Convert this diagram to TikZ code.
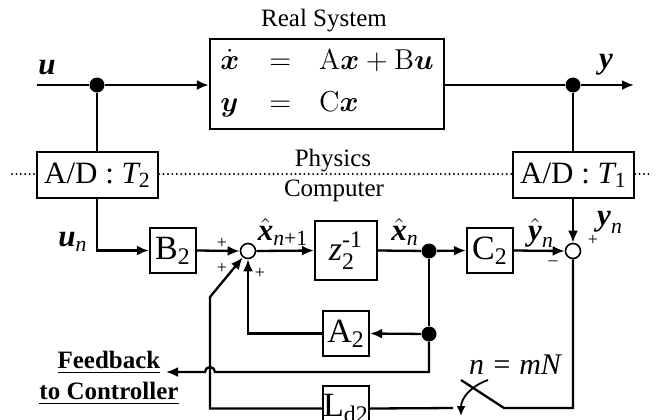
\documentclass[tikz,border=0pt]{standalone}
\usepackage{amsmath}
\usepackage[no-math]{fontspec}
\setmainfont{Liberation Serif}
\usetikzlibrary{arrows.meta,positioning}

\newcommand{\vb}[1]{\textbf{\textit{#1}}}

\tikzset{
  linea/.style={line width=1.15pt},
  flecha/.style={linea,-{Latex[length=6pt,width=5pt]}},
  bloque/.style={draw,line width=1.15pt,inner sep=0pt,minimum width=23pt,
    minimum height=22.5pt,fill=white,font=\fontsize{17}{19}\selectfont},
  conv/.style={draw,line width=1.15pt,inner sep=0pt,minimum width=60.5pt,
    minimum height=23pt,fill=white,font=\fontsize{15.5}{17}\selectfont},
  suma/.style={circle,draw,line width=0.8pt,fill=white,inner sep=0pt,minimum size=7.5pt},
  punto/.style={circle,fill,inner sep=0pt,minimum size=7.5pt},
  signo/.style={inner sep=0pt,font=\fontsize{9}{10}\selectfont},
  etiq/.style={inner sep=0pt,font=\fontsize{15.5}{17}\selectfont},
  texto/.style={inner sep=0pt,font=\fontsize{12.5}{14}\selectfont},
  punteado/.style={line width=1.1pt,line cap=round,dash pattern=on 0pt off 2.2pt},
}

\begin{document}
\begin{tikzpicture}[x=0.5pt,y=-0.5pt]
\useasboundingbox (0,0) rectangle (662,419);
\clip (0,0) rectangle (662,419);

% Sistema real
\node[draw,linea,minimum width=117pt,minimum height=45pt,inner sep=0pt,
  font=\fontsize{13.5}{15}\selectfont] (sis) at (327,84)
  {$\begin{array}{@{}l@{\hspace{15pt}}c@{\hspace{14pt}}l@{}}
    \dot{\boldsymbol{x}} & = & \mathrm{A}\boldsymbol{x}+\mathrm{B}\boldsymbol{u}\\[6pt]
    \boldsymbol{y} & = & \mathrm{C}\boldsymbol{x}
  \end{array}$};
\node[texto,font=\fontsize{12.5}{14}\selectfont] (tsis) at (324,21) {Real System};

% Entrada y salida
\coordinate (uIni) at (37,85);
\coordinate (yFin) at (634,85);
\node[punto] (pU) at (97,85) {};
\node[punto] (pY) at (573,85) {};
\node[etiq] (lu) at (47,68) {\vb{u}};
\node[etiq] (ly) at (606,65) {\vb{y}};
\draw[flecha] (uIni) -- (pU) -- (pU -| sis.west);
\draw[flecha] (pY -| sis.east) -- (pY) -- (yFin);

% Convertidores A/D y frontera
\node[conv] (ad2) at (97.5,175) {A/D : $\textit{T}_{\textrm{2}}$};
\node[conv] (ad1) at (573.5,175) {A/D : $\textit{T}_{\textrm{1}}$};
\draw[linea] (pU) -- (pU |- ad2.north);
\draw[linea] (pY) -- (pY |- ad1.north);
\coordinate (bIzq) at (12,174);
\coordinate (bDer) at (651,174);
\draw[punteado] (bIzq) -- (bIzq -| ad2.west);
\draw[punteado] (ad2.east |- bIzq) -- (ad1.west |- bIzq);
\draw[punteado] (ad1.east |- bDer) -- (bDer);
\node[texto] (tfis) at (333,161) {Physics};
\node[texto] (tcom) at (334,191) {Computer};

% Observador
\node[bloque] (B2) at (173,250.5) {B$_{\textrm{2}}$};
\node[suma] (s1) at (248,251) {};
\node[bloque,minimum width=31pt,minimum height=29.5pt,
  font=\fontsize{17}{19}\selectfont] (z) at (346,250.5) {$\textit{z}_{\textrm{2}}^{\textrm{-1}}$};
\node[punto] (pX) at (429,251) {};
\node[bloque] (C2) at (490,250.5) {C$_{\textrm{2}}$};
\node[suma] (s2) at (573,251) {};
\node[bloque] (A2) at (346,333.5) {A$_{\textrm{2}}$};
\node[punto] (pA) at (429,334) {};
\node[bloque] (L2) at (346,408.5) {L$_{\textrm{d2}}$};

\draw[flecha] (ad2.south -| pU) |- (B2.west);
\draw[flecha] (B2.east) -- (s1.west);
\draw[flecha] (s1.east) -- (z.west);
\draw[linea] (z.east) -- (pX);
\draw[flecha] (pX) -- (C2.west);
\draw[flecha] (C2.east) -- (s2.west);
\draw[flecha] (ad1.south -| pY) -- (s2.north);
\draw[linea] (pX) -- (pA);
\draw[flecha] (pA) -- (A2.east);
\draw[flecha] (A2.west) -| (s1.south);

% Signos de los sumadores
\node[signo] (sg1) at (222,243) {+};
\node[signo] (sg2) at (222,268) {+};
\node[signo] (sg3) at (260,273) {+};
\node[signo] (sg4) at (553,263) {\textendash};
\node[signo] (sg5) at (593,240) {+};

% Etiquetas de senales
\node[etiq] (lun) at (73,242) {$\vb{u}_{\textit{n}}$};
\node[etiq] (lx1) at (283,232) {$\hat{\vb{x}}_{\textit{n}\textrm{+1}}$};
\node[etiq] (lxn) at (405,232) {$\hat{\vb{x}}_{\textit{n}}$};
\node[etiq] (lyh) at (541,233) {$\hat{\vb{y}}_{\textit{n}}$};
\node[etiq] (lyn) at (610,222) {$\vb{y}_{\textit{n}}$};

% Realimentacion al controlador (con salto)
\coordinate (fbFin) at (166,372);
\draw[flecha] (pA) |- (215,372) arc[start angle=0,end angle=-180,radius=5] -- (fbFin);
\node[texto,font=\bfseries\fontsize{12.5}{15.5}\selectfont,align=center] (fb) at (109,378)
  {\underline{Feedback}\\\underline{to Controller}};

% Correccion con interruptor
\coordinate (swA) at (504,408);
\coordinate (swB) at (461,380);
\coordinate (swC) at (453,408);
\coordinate (kL) at (210,297);
\draw[linea] (s2.south) |- (swA) -- (swB);
\draw[linea] (swC) -- (L2.east);
\draw[flecha] (L2.west) -| (kL) -- (s1);
\draw[-{Latex[length=5pt,width=4.5pt]},line width=0.9pt] (488,380) .. controls (471,386) and (461,398) .. (461,416);
\node[texto,font=\fontsize{15}{17}\itshape\selectfont] (lsw) at (515,365) {n = mN};
\end{tikzpicture}
\end{document}
